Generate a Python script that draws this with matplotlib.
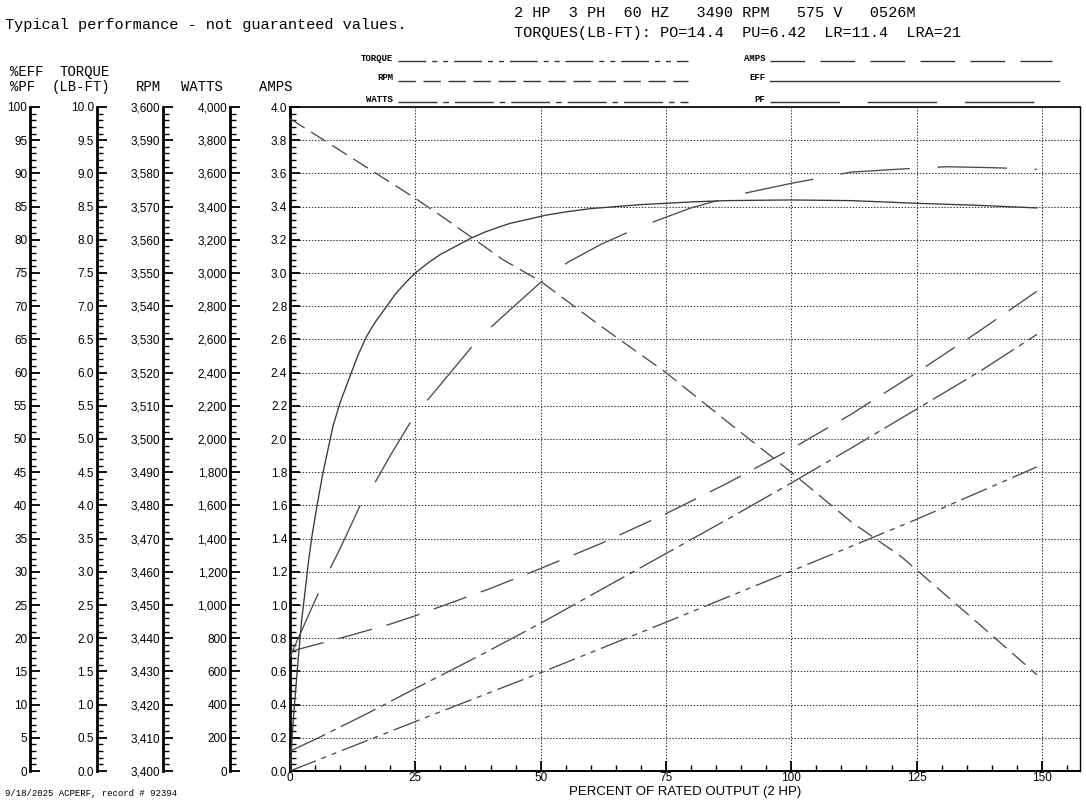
import matplotlib
matplotlib.use("Agg")
import matplotlib.pyplot as plt
from matplotlib.ticker import MultipleLocator, StrMethodFormatter
from matplotlib.lines import Line2D

plt.rcParams["font.family"] = ["Liberation Sans", "DejaVu Sans"]
plt.rcParams["lines.scale_dashes"] = False

# ---- data (x = percent of rated output) ----
eff_load = [0, 0.5, 1, 1.6, 2.3, 3, 3.6, 4.3, 5.4, 6.6, 7.6, 8.6, 10, 12, 13.5, 15.3, 17,
            19.3, 21, 23, 25, 27.5, 30, 33, 36, 39, 42, 44, 47, 51, 55, 60, 65, 70, 75,
            80, 87, 93, 100, 112, 125, 137, 149]
eff_pct = [0, 6, 11, 16.5, 22.5, 27, 31, 35, 40, 45, 48.5, 52, 55.5, 59.5, 62.5, 65.5, 67.6,
           70, 71.8, 73.5, 75, 76.5, 77.8, 79, 80.2, 81.2, 82, 82.5, 83, 83.7, 84.2, 84.7, 85,
           85.3, 85.5, 85.7, 85.9, 85.95, 86, 85.9, 85.5, 85.2, 84.8]

pf_load = [0, 5.3, 7.8, 10, 14, 17, 20, 24, 27.6, 32, 36.4, 40.6, 45, 50.9, 55.6,
           62, 70, 80, 90, 100, 112, 125, 131, 138, 145, 149]
pf_pct = [17.2, 26.2, 30.2, 33.5, 40, 43.5, 47.5, 52.5, 56, 60, 64, 67.2, 70.2, 74.2, 76.7,
          79.3, 82, 84.8, 86.9, 88.5, 90.2, 90.8, 91, 90.9, 90.75, 90.6]

amps_load = [0, 10, 20, 25, 30, 40, 50, 62, 75, 87, 100, 112, 125, 137, 149]
amps = [0.72, 0.80, 0.885, 0.935, 0.99, 1.10, 1.22, 1.37, 1.55, 1.73, 1.94, 2.15, 2.40, 2.64, 2.89]

rpm_load = [0, 25, 31.3, 42.5, 50, 62, 75, 87, 100, 112, 122, 135, 149]
rpm = [3596.5, 3572.5, 3566, 3554, 3547.5, 3534, 3520, 3505.5, 3490, 3475, 3464.5, 3447.5, 3429]

watts_load = [0, 5, 10, 15, 25, 37.5, 50, 62.5, 75, 87.5, 100, 112.5, 125, 137.5, 149]
watts = [120, 190, 265, 340, 497, 690, 890, 1100, 1310, 1520, 1735, 1955, 2180, 2405, 2630]

torque_load = [0, 25, 50, 75, 100, 125, 149]
torque = [0, 0.745, 1.48, 2.24, 3.01, 3.79, 4.58]

# dash patterns (points)
DASH = {
    "TORQUE": (0, (20, 4.3, 3.6, 4.3, 3.6, 4.3)),
    "RPM": (0, (12.5, 5.5)),
    "WATTS": (0, (28, 4.3, 4, 4.3)),
    "AMPS": (0, (25, 11)),
    "EFF": "-",
    "PF": (0, (50, 20)),
}
LINE_C = "#4a4a4a"
EFF_C = "#383838"
LW = 0.95

W, H = 1086, 800
fig = plt.figure(figsize=(10.86, 8), dpi=100)


def fx(px):
    return px / W


def fy(py):
    return 1 - py / H


ax = fig.add_axes([fx(290), fy(771), fx(1080) - fx(290), fy(107) - fy(771)])
ax.set_xlim(0, 157.6)
ax.set_ylim(0, 4)
ax.xaxis.set_major_locator(MultipleLocator(25))
ax.xaxis.set_minor_locator(MultipleLocator(5))
ax.yaxis.set_major_locator(MultipleLocator(0.2))
ax.yaxis.set_minor_locator(MultipleLocator(0.04))
ax.yaxis.set_major_formatter(StrMethodFormatter("{x:.1f}"))
ax.tick_params(which="major", direction="in", length=7, width=1.3, labelsize=8.5, pad=2)
ax.tick_params(which="minor", direction="in", length=4, width=1)
ax.tick_params(axis="x", pad=1)
ax.grid(True, which="major", color="#333333", linestyle=(0, (1, 1.2)), linewidth=0.75)
ax.set_axisbelow(True)
ax.spines["left"].set_linewidth(2.0)
ax.spines["bottom"].set_linewidth(1.4)
ax.spines["top"].set_linewidth(1.2)
ax.spines["right"].set_linewidth(1.0)
ax.set_xlabel("PERCENT OF RATED OUTPUT (2 HP)", fontsize=9.5, labelpad=1)

# extra scales on the left: one twin per quantity, spine shifted left
scales = [
    ("eff", (0, 100), 5, 1, "{x:.0f}", 30),
    ("torque", (0, 10), 0.5, 0.1, "{x:.1f}", 96.7),
    ("rpm", (3400, 3600), 10, 2, "{x:,.0f}", 163.3),
    ("watts", (0, 4000), 200, 40, "{x:,.0f}", 230),
]
tw = {}
for name, lim, major, minor, fmt, xpx in scales:
    t = ax.twinx()
    t.set_ylim(*lim)
    for s in ("top", "bottom", "right"):
        t.spines[s].set_visible(False)
    t.spines["left"].set_visible(True)
    t.spines["left"].set_position(("axes", (xpx - 290) / 790))
    t.spines["left"].set_linewidth(2.0)
    t.yaxis.set_ticks_position("left")
    t.yaxis.set_major_locator(MultipleLocator(major))
    t.yaxis.set_minor_locator(MultipleLocator(minor))
    t.yaxis.set_major_formatter(StrMethodFormatter(fmt))
    t.tick_params(which="major", direction="in", length=7, width=1.3, labelsize=8.5, pad=2)
    t.tick_params(which="minor", direction="in", length=4, width=1)
    tw[name] = t

# curves
tw["eff"].plot(eff_load, eff_pct, color=EFF_C, lw=LW, linestyle=DASH["EFF"])
tw["eff"].plot(pf_load, pf_pct, color=LINE_C, lw=LW, linestyle=DASH["PF"])
ax.plot(amps_load, amps, color=LINE_C, lw=LW, linestyle=DASH["AMPS"], zorder=3)
tw["rpm"].plot(rpm_load, rpm, color=LINE_C, lw=LW, linestyle=DASH["RPM"])
tw["watts"].plot(watts_load, watts, color=LINE_C, lw=LW, linestyle=DASH["WATTS"])
tw["torque"].plot(torque_load, torque, color=LINE_C, lw=LW, linestyle=DASH["TORQUE"])

# headers
mono = ["Liberation Mono", "DejaVu Sans Mono"]
fig.text(fx(5), fy(25), "Typical performance - not guaranteed values.", family=mono,
         fontsize=11, va="center")
fig.text(fx(514), fy(13), "2 HP  3 PH  60 HZ   3490 RPM   575 V   0526M", family=mono,
         fontsize=11, va="center")
fig.text(fx(514), fy(33), "TORQUES(LB-FT): PO=14.4  PU=6.42  LR=11.4  LRA=21", family=mono,
         fontsize=11, va="center")
for label, xpx, ypx in [("%EFF", 10, 72), ("%PF", 10, 87), ("TORQUE", 60, 72),
                        ("(LB-FT)", 52, 87), ("RPM", 136, 87), ("WATTS", 181, 87),
                        ("AMPS", 259, 87)]:
    fig.text(fx(xpx), fy(ypx), label, family=mono, fontsize=10, va="center")
fig.text(fx(5), fy(793), "9/18/2025 ACPERF, record # 92394", family=mono,
         fontsize=6.5, va="center")

# legend
legend = [
    ("TORQUE", 393, 398, 688, 60.7),
    ("RPM", 393, 398, 688, 80.5),
    ("WATTS", 393, 398, 688, 101.5),
    ("AMPS", 765, 770, 1052, 60.7),
    ("EFF", 765, 770, 1059, 80.5),
    ("PF", 765, 770, 1037, 101.5),
]
for name, tx, x0, x1, ypx in legend:
    fig.text(fx(tx), fy(ypx - 2.5), name, family=mono, fontsize=6.5, weight="bold",
             ha="right", va="center")
    fig.add_artist(Line2D([fx(x0), fx(x1)], [fy(ypx), fy(ypx)], transform=fig.transFigure,
                          color="#333333", lw=1.0, linestyle=DASH[name]))

fig.savefig("out.png", dpi=100)
